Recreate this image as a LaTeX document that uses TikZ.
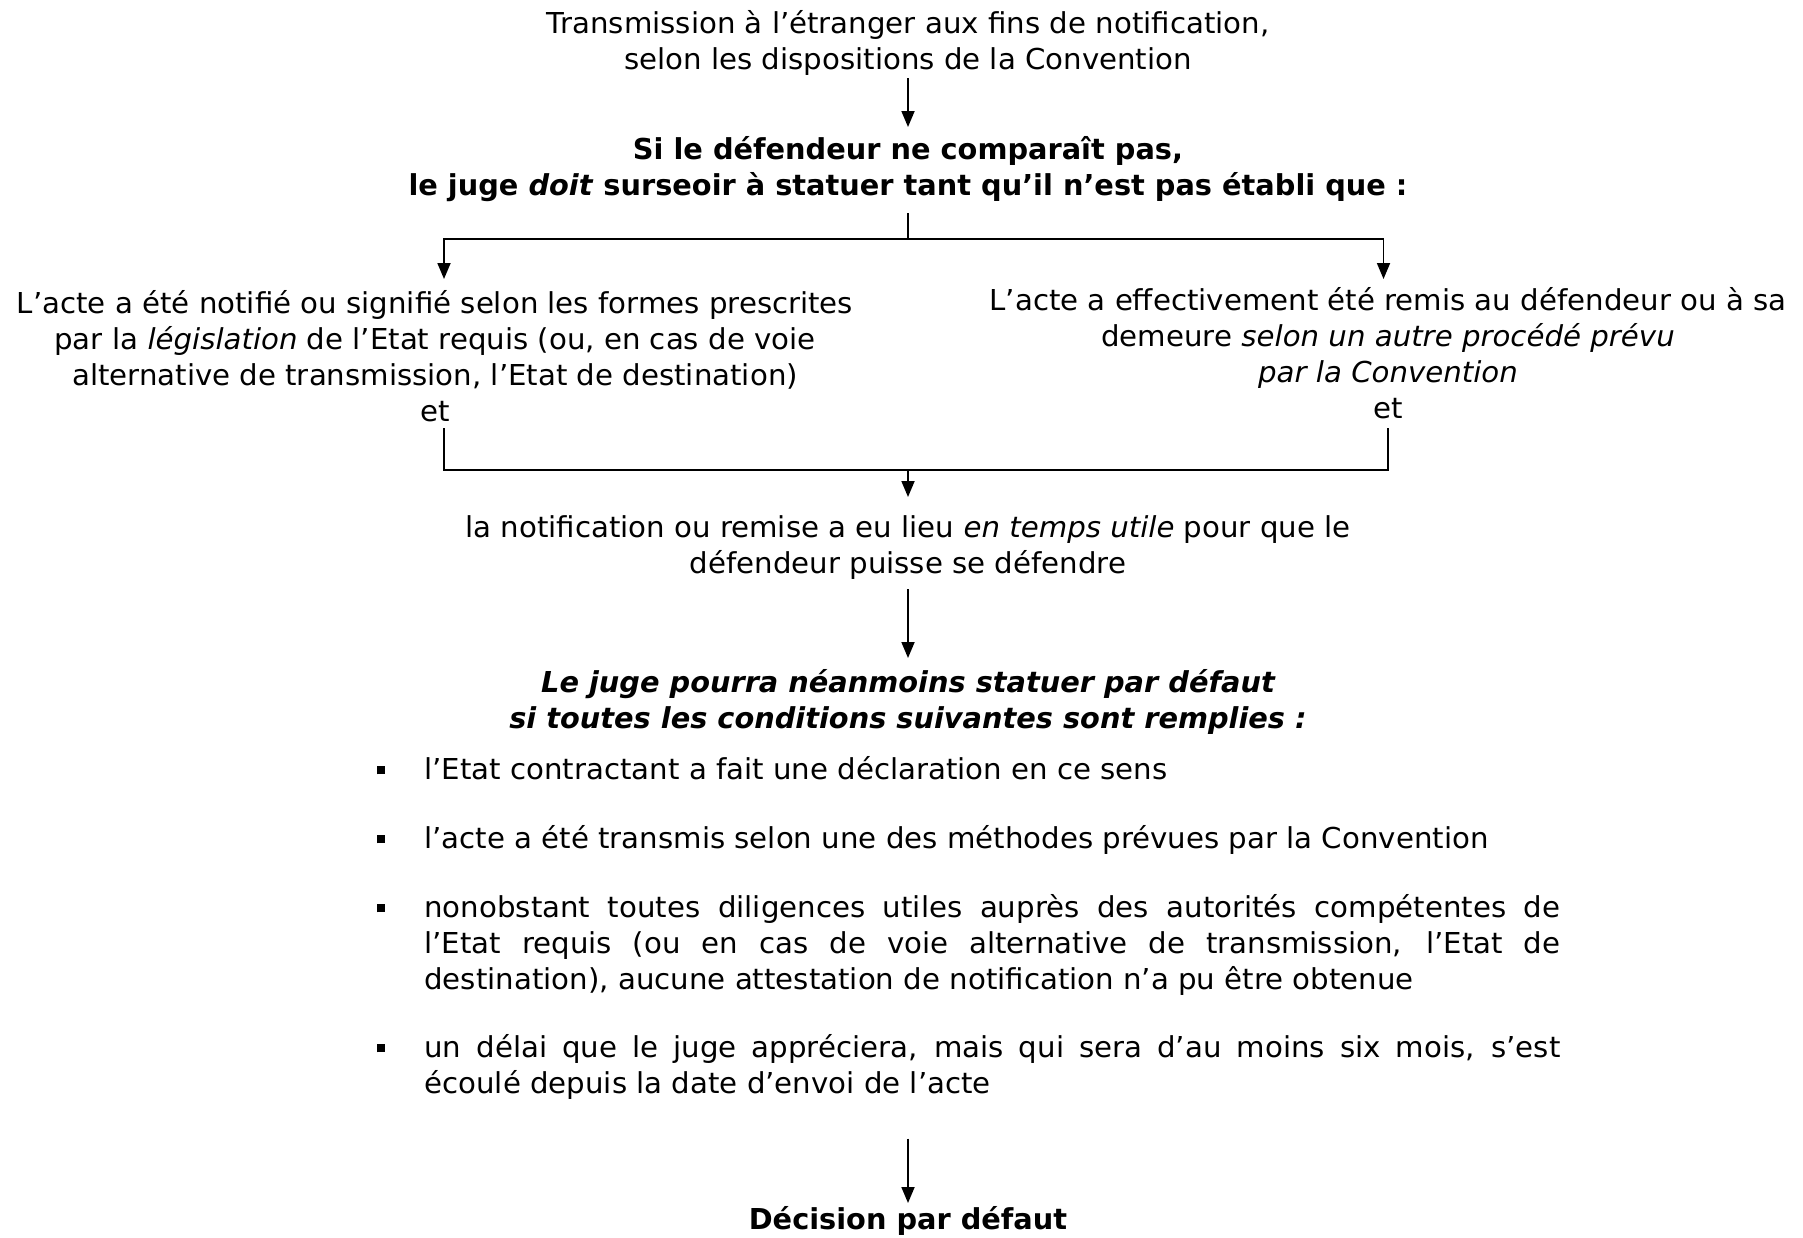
\documentclass[tikz,border=0pt]{standalone}
\usepackage{fontspec}
\setmainfont{DejaVu Sans}[UprightFeatures={FakeStretch=1.015},ItalicFeatures={FakeStretch=1.015}]
\usetikzlibrary{arrows.meta}
\newcommand{\bulletmark}{\noindent\llap{\rule[2.5pt]{4pt}{4pt}\hspace{19.5pt}}}
\begin{document}
\begin{tikzpicture}[x=0.5pt,y=-0.5pt,
  every node/.style={inner sep=0pt, font=\fontsize{14.4}{18}\selectfont},
  txt/.style={align=center},
  conn/.style={line width=0.9pt},
  arr/.style={conn,-{Triangle[length=8pt,width=6.5pt]}}]
\useasboundingbox[fill=white] (0,0) rectangle (1803,1237);
\node[txt] (title) at (908,43) {Transmission à l’étranger aux fins de notification,\\selon les dispositions de la Convention};
\node[txt] (cond) at (908,169.5) {\bfseries Si le défendeur ne comparaît pas,\\\bfseries le juge \textit{doit} surseoir à statuer tant qu’il n’est pas établi que :};
\node[txt] (left) at (435,356) {L’acte a été notifié ou signifié selon les formes prescrites\\par la \textit{législation} de l’Etat requis (ou, en cas de voie\\alternative de transmission, l’Etat de destination)\\et};
\node[txt] (right) at (1388,353) {L’acte a effectivement été remis au défendeur ou à sa\\demeure \textit{selon un autre procédé prévu}\\\textit{par la Convention}\\et};
\node[txt] (timely) at (908,548) {la notification ou remise a eu lieu \textit{en temps utile} pour que le\\défendeur puisse se défendre};
\node[txt] (may) at (908,701.5) {\bfseries\itshape Le juge pourra néanmoins statuer par défaut\\\bfseries\itshape si toutes les conditions suivantes sont remplies :};
\node[anchor=north west, text width=568pt, align=justify] (list) at (424,756) {%
\bulletmark l’Etat contractant a fait une déclaration en ce sens\par\vspace{16.5pt}
\bulletmark l’acte a été transmis selon une des méthodes prévues par la Convention\par\vspace{16.5pt}
\bulletmark nonobstant toutes diligences utiles auprès des autorités compétentes de\linebreak l’Etat requis (ou en cas de voie alternative de transmission, l’Etat de\linebreak destination), aucune attestation de notification n’a pu être obtenue\par\vspace{16pt}
\bulletmark un délai que le juge appréciera, mais qui sera d’au moins six mois, s’est\linebreak écoulé depuis la date d’envoi de l’acte\par};
\node (dec) at (908,1221) {\bfseries Décision par défaut};
% connectors
\coordinate (a1s) at (908,78);
\coordinate (a1e) at (908,127);
\draw[arr] (a1s) -- (a1e);
\coordinate (stop) at (908,213);
\coordinate (split) at (908,239);
\coordinate (lt) at (444,279);
\coordinate (rt) at (1383.5,279);
\draw[conn] (stop) -- (split);
\draw[arr] (split) -| (lt);
\draw[arr] (split) -| (rt);
\coordinate (lb) at (444,428);
\coordinate (rb) at (1388,428);
\coordinate (merge) at (908,470);
\coordinate (mt) at (908,497);
\draw[conn] (lb) |- (merge) -| (rb);
\draw[arr] (merge) -- (mt);
\coordinate (a3s) at (908,589);
\coordinate (a3e) at (908,658);
\draw[arr] (a3s) -- (a3e);
\coordinate (a4s) at (908,1138.5);
\coordinate (a4e) at (908,1203);
\draw[arr] (a4s) -- (a4e);
\end{tikzpicture}
\end{document}
